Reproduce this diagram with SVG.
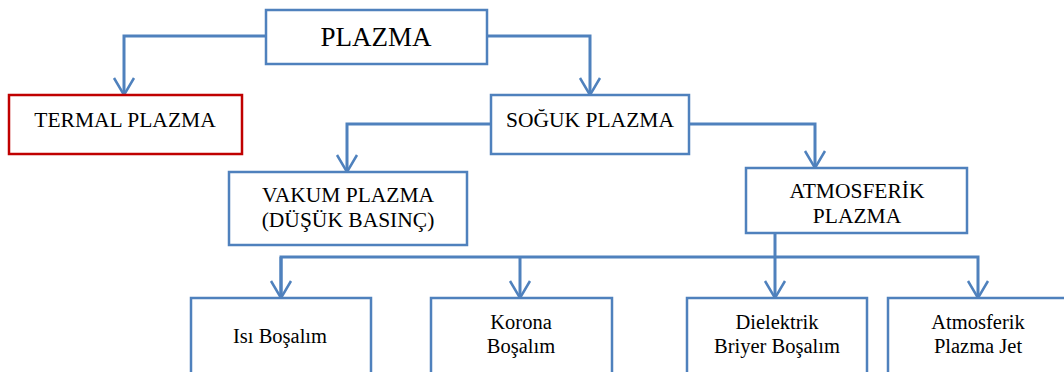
<svg xmlns="http://www.w3.org/2000/svg" width="1064" height="372" viewBox="0 0 1064 372" font-family="'Liberation Serif', 'DejaVu Serif', serif">
<style>
.box{fill:#fff;stroke:#4F81BD;stroke-width:2.5}
.red{fill:#fff;stroke:#C00000;stroke-width:2.5}
.con{fill:none;stroke:#4F81BD;stroke-width:3}
.arr{fill:none;stroke:#4F81BD;stroke-width:2.5}
text{font-family:'Liberation Serif', serif;fill:#000;text-anchor:middle}
.t{font-size:21.5px}
.s{font-size:20.5px}
.big{font-size:27px}
</style>
<defs>
<marker id="ah" markerUnits="userSpaceOnUse" markerWidth="24" markerHeight="22" viewBox="-12 -20 24 22" refX="0" refY="0" orient="0">
<path d="M-10,-17 L0,0 L10,-17" class="arr"/>
</marker>
</defs>
<g id="connectors">
<path class="con" d="M266,36 H124 V95" marker-end="url(#ah)"/>
<path class="con" d="M487,36 H590 V95" marker-end="url(#ah)"/>
<path class="con" d="M491,124 H347 V172" marker-end="url(#ah)"/>
<path class="con" d="M689,124 H815 V168" marker-end="url(#ah)"/>
<path class="con" d="M775,233 V298" marker-end="url(#ah)"/>
<path class="con" d="M281,298 V257 H978 V298" marker-end="url(#ah)"/>
<path class="con" d="M281,257 V298" marker-end="url(#ah)"/>
<path class="con" d="M520,257 V298" marker-end="url(#ah)"/>
</g>
<g id="plazma">
<rect class="box" x="266" y="10" width="221" height="54"/>
<text class="big" x="376" y="46">PLAZMA</text>
</g>
<g id="termal">
<rect class="red" x="9" y="95" width="233" height="59"/>
<text class="t" x="125" y="127">TERMAL PLAZMA</text>
</g>
<g id="soguk">
<rect class="box" x="491" y="95" width="198" height="59"/>
<text class="t" x="590" y="127">SOĞUK PLAZMA</text>
</g>
<g id="vakum">
<rect class="box" x="229" y="172" width="238" height="73"/>
<text class="t" x="348" y="202">VAKUM PLAZMA</text>
<text class="t" x="348" y="227">(DÜŞÜK BASINÇ)</text>
</g>
<g id="atmosferik">
<rect class="box" x="746" y="168" width="221" height="65"/>
<text class="t" x="857" y="198">ATMOSFERİK</text>
<text class="t" x="857" y="223">PLAZMA</text>
</g>
<g id="isi">
<rect class="box" x="191" y="298" width="180" height="90"/>
<text class="s" x="280" y="343">Isı Boşalım</text>
</g>
<g id="korona">
<rect class="box" x="431" y="298" width="181" height="90"/>
<text class="s" x="521" y="329">Korona</text>
<text class="s" x="521" y="353">Boşalım</text>
</g>
<g id="dielektrik">
<rect class="box" x="687" y="298" width="180" height="90"/>
<text class="s" x="777" y="329">Dielektrik</text>
<text class="s" x="777" y="353">Briyer Boşalım</text>
</g>
<g id="jet">
<rect class="box" x="888" y="298" width="190" height="90"/>
<text class="s" x="978" y="329">Atmosferik</text>
<text class="s" x="978" y="353">Plazma Jet</text>
</g>
</svg>
